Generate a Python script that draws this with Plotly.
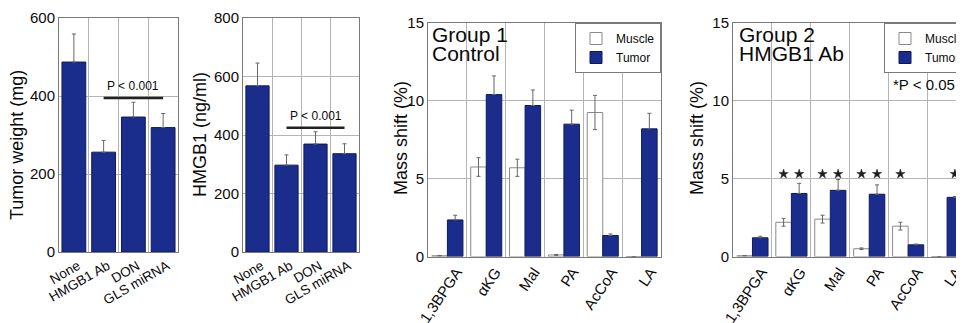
import plotly.graph_objects as go

# ---------------- data ----------------
treatments = ["None", "HMGB1 Ab", "DON", "GLS miRNA"]
tumor_weight = [487, 256, 346, 319]
tumor_weight_err = [72, 30, 38, 36]
hmgb1_level = [568, 297, 369, 336]
hmgb1_level_err = [78, 35, 42, 34]

metabolites = ["1,3BPGA", "\u03b1KG", "Mal", "PA", "AcCoA", "LA"]
g1_muscle = [0.05, 5.75, 5.7, 0.1, 9.25, 0.0]
g1_muscle_err = [0.02, 0.6, 0.55, 0.03, 1.1, 0.0]
g1_tumor = [2.35, 10.4, 9.7, 8.5, 1.35, 8.2]
g1_tumor_err = [0.3, 1.2, 1.0, 0.9, 0.1, 1.0]

g2_muscle = [0.05, 2.2, 2.4, 0.5, 1.95, 0.0]
g2_muscle_err = [0.0, 0.25, 0.25, 0.05, 0.25, 0.0]
g2_tumor = [1.2, 4.05, 4.25, 4.0, 0.75, 3.8]
g2_tumor_err = [0.1, 0.65, 0.7, 0.6, 0.05, 0.05]
g2_muscle_sig = [0, 1, 1, 1, 1, 0]
g2_tumor_sig = [0, 1, 1, 1, 0, 1]
sig_level = 5.3

W, H = 964, 323
OFF = 8  # page body margin offset (figure drawn at 8,8 in the window)
NAVY = "#1b2d8c"
NAVY_EDGE = "#0f1a5c"
GRID = "#b4b4b4"
FRAME = "#7a7a7a"
FONT = "Liberation Sans, Arial, sans-serif"
TXT = "#0a0a0a"


def px_x(p):
    return (p - OFF) / W


def px_y(p):
    return 1 - (p - OFF) / H


fig = go.Figure()

# ---------------- panel 1 & 2 ----------------
for ax, vals, errs, pline in [
    ("", tumor_weight, tumor_weight_err, 395),
    ("2", hmgb1_level, hmgb1_level_err, 425),
]:
    fig.add_trace(go.Bar(
        x=treatments, y=vals, xaxis="x" + ax, yaxis="y" + ax,
        marker=dict(color=NAVY, line=dict(color=NAVY_EDGE, width=1)),
        error_y=dict(type="data", array=errs, arrayminus=[0] * len(errs),
                     symmetric=False, color="#666", thickness=1, width=2),
        showlegend=False,
    ))
    fig.add_trace(go.Scatter(
        x=[treatments[1], treatments[3]], y=[pline, pline],
        xaxis="x" + ax, yaxis="y" + ax, mode="lines",
        line=dict(color="#222", width=2.5), showlegend=False,
    ))
    fig.add_annotation(x=treatments[2], y=pline, xref="x" + ax, yref="y" + ax,
                       text="P < 0.001", showarrow=False, yanchor="bottom",
                       yshift=3, font=dict(size=12, color=TXT, family=FONT))

# ---------------- panel 3 & 4 ----------------
idx = list(range(len(metabolites)))
for ax, mus, mus_e, tum, tum_e, leg in [
    ("3", g1_muscle, g1_muscle_err, g1_tumor, g1_tumor_err, "legend"),
    ("4", g2_muscle, g2_muscle_err, g2_tumor, g2_tumor_err, "legend2"),
]:
    fig.add_trace(go.Bar(
        x=idx, y=mus, name="Muscle", xaxis="x" + ax, yaxis="y" + ax,
        marker=dict(color="white", line=dict(color="#8a8a8a", width=1)),
        error_y=dict(type="data", array=mus_e, color="#666", thickness=1, width=2),
        legend=leg, offsetgroup="m",
    ))
    fig.add_trace(go.Bar(
        x=idx, y=tum, name="Tumor", xaxis="x" + ax, yaxis="y" + ax,
        marker=dict(color=NAVY, line=dict(color=NAVY_EDGE, width=1)),
        error_y=dict(type="data", array=tum_e, arrayminus=[0] * len(tum_e),
                     symmetric=False, color="#666", thickness=1, width=2),
        legend=leg, offsetgroup="t",
    ))

# significance asterisks (group 2)
star_x = [i - 0.2 for i, s in zip(idx, g2_muscle_sig) if s] + \
         [i + 0.2 for i, s in zip(idx, g2_tumor_sig) if s]
fig.add_trace(go.Scatter(
    x=star_x, y=[sig_level] * len(star_x), xaxis="x4", yaxis="y4",
    mode="markers", showlegend=False,
    marker=dict(symbol="star", size=7, color="#1e1e1e",
                line=dict(width=0.5, color="#1e1e1e")),
))

# ---------------- axes ----------------
tickfont = dict(size=15, color=TXT, family=FONT)
common_y = dict(showline=True, linecolor=FRAME, linewidth=1, mirror=True,
                showgrid=True, gridcolor=GRID, gridwidth=1, zeroline=False,
                ticks="", tickfont=tickfont, automargin=False)

dom12_y = [px_y(252), px_y(18)]
dom34_y = [px_y(256.5), px_y(23)]

cat_x = dict(type="category", tickson="boundaries", showgrid=True, gridcolor=GRID,
             showline=True, linecolor=FRAME, mirror=True, ticks="",
             tickangle=-30, tickfont=dict(size=13.5, color=TXT, family=FONT),
             ticklabelshift=4, automargin=False)
num_x = dict(tickvals=idx, ticktext=metabolites, showgrid=False,
             minor=dict(tick0=0.5, dtick=1, showgrid=True, gridcolor=GRID),
             showline=True, linecolor=FRAME, mirror=True, ticks="", zeroline=False,
             tickangle=-56, tickfont=dict(size=15, color=TXT, family=FONT),
             ticklabelshift=9, automargin=False)

fig.update_layout(
    xaxis=dict(domain=[px_x(59), px_x(178)], anchor="y", **cat_x),
    yaxis=dict(domain=dom12_y, anchor="x", range=[0, 600], dtick=200, **common_y),
    xaxis2=dict(domain=[px_x(243), px_x(359)], anchor="y2", **cat_x),
    yaxis2=dict(domain=dom12_y, anchor="x2", range=[0, 800], dtick=200, **common_y),
    xaxis3=dict(domain=[px_x(428), px_x(661)], anchor="y3", range=[-0.5, 5.5], **num_x),
    yaxis3=dict(domain=dom34_y, anchor="x3", range=[0, 15], dtick=5, **common_y),
    xaxis4=dict(domain=[px_x(733), 1.0], anchor="y4", range=[-0.5, 5.64], **num_x),
    yaxis4=dict(domain=dom34_y, anchor="x4", range=[0, 15], dtick=5, **common_y),
    barmode="group", bargap=0.2, bargroupgap=0,
    width=W, height=H, margin=dict(l=0, r=0, t=0, b=0, autoexpand=False),
    paper_bgcolor="white", plot_bgcolor="white",
    font=dict(family=FONT, color=TXT),
    legend=dict(x=px_x(661), y=px_y(23), xanchor="right", yanchor="top",
                bgcolor="white", bordercolor=FRAME, borderwidth=1,
                font=dict(size=12, family=FONT, color=TXT), tracegroupgap=0,
                itemwidth=30),
    legend2=dict(x=px_x(884), y=px_y(23), xanchor="left", yanchor="top",
                 bgcolor="white", bordercolor=FRAME, borderwidth=1,
                 font=dict(size=12, family=FONT, color=TXT), tracegroupgap=0,
                 itemwidth=30),
)

# ---------------- text ----------------
def ytitle(text, xc, yc):
    fig.add_annotation(x=px_x(xc), y=px_y(yc), xref="paper", yref="paper",
                       text=text, textangle=-90, showarrow=False,
                       xanchor="center", yanchor="middle",
                       font=dict(size=18, color=TXT, family=FONT))

ytitle("Tumor weight (mg)", 17, 145)
ytitle("HMGB1 (ng/ml)", 200, 135)
ytitle("Mass shift (%)", 401, 138)
ytitle("Mass shift (%)", 697, 138)

for xl, lines in [(430, ["Group 1", "Control"]), (737, ["Group 2", "HMGB1 Ab"])]:
    for yc, t in zip([35, 54], lines):
        fig.add_annotation(x=px_x(xl), y=px_y(yc), xref="paper", yref="paper",
                           text=t, showarrow=False, xanchor="left", yanchor="middle",
                           font=dict(size=21, color=TXT, family=FONT))

fig.add_annotation(x=px_x(891), y=px_y(85), xref="paper", yref="paper",
                   text="*P < 0.05", showarrow=False, xanchor="left", yanchor="middle",
                   font=dict(size=15, color=TXT, family=FONT))

fig.write_html("out.html")
